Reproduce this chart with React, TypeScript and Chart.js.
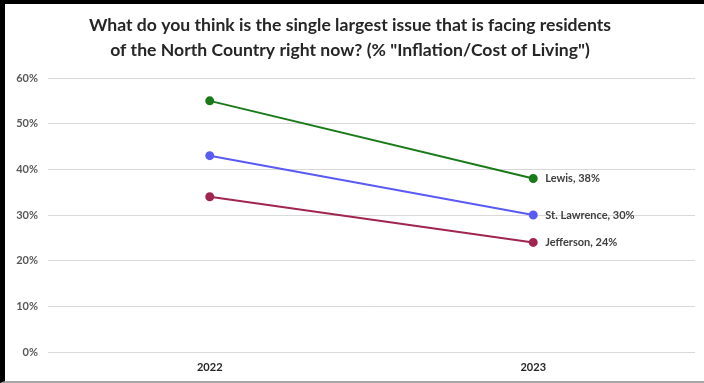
import React, { useEffect, useRef } from "react";
import { Chart, registerables } from "chart.js";

Chart.register(...registerables);

const years = ["2022", "2023"];
const lewis = [55, 38];
const stLawrence = [43, 30];
const jefferson = [34, 24];
const seriesNames = ["Lewis", "St. Lawrence", "Jefferson"];
const titleLines = [
  "What do you think is the single largest issue that is facing residents",
  'of the North Country right now? (% "Inflation/Cost of Living")',
];

const FONT = "Lato, 'Open Sans', sans-serif";

const endLabels = {
  id: "endLabels",
  afterDatasetsDraw(chart: any) {
    const ctx = chart.ctx;
    ctx.save();
    ctx.font = `bold 11px ${FONT}`;
    ctx.fillStyle = "#404040";
    ctx.textBaseline = "middle";
    ctx.textAlign = "left";
    chart.data.datasets.forEach((ds: any, i: number) => {
      const meta = chart.getDatasetMeta(i);
      const last = meta.data[meta.data.length - 1];
      const v = ds.data[ds.data.length - 1];
      ctx.fillText(`${ds.label}, ${v}%`, last.x + 12, last.y);
    });
    ctx.restore();
  },
};

export default function App() {
  const ref = useRef<HTMLCanvasElement>(null);
  useEffect(() => {
    const chart = new Chart(ref.current!, {
      type: "line",
      data: {
        labels: years,
        datasets: [
          { label: seriesNames[0], data: lewis, borderColor: "#1a7a1a", backgroundColor: "#1a7a1a" },
          { label: seriesNames[1], data: stLawrence, borderColor: "#5a5af5", backgroundColor: "#5a5af5" },
          { label: seriesNames[2], data: jefferson, borderColor: "#a0254f", backgroundColor: "#a0254f" },
        ].map((d) => ({ ...d, borderWidth: 2, pointRadius: 3.5, pointHoverRadius: 3.5, tension: 0 })),
      },
      options: {
        animation: false,
        responsive: false,
        maintainAspectRatio: false,
        layout: { padding: { left: 0, right: 9, top: 0, bottom: 0 } },
        plugins: {
          legend: { display: false },
          tooltip: { enabled: false },
          title: {
            display: true,
            text: titleLines,
            color: "#262626",
            font: { family: FONT, size: 17.6, weight: "bold", lineHeight: 1.45 },
            padding: { top: 8.5, bottom: 14.5 },
          },
        },
        scales: {
          x: {
            offset: true,
            grid: { display: false, drawTicks: false },
            border: { display: false },
            ticks: { color: "#262626", font: { family: FONT, size: 11, weight: "bold" }, padding: 9 },
            afterFit: (s: any) => { s.height = 29; },
          },
          y: {
            min: 0,
            max: 60,
            grid: { color: "#d9d9d9", drawTicks: false },
            border: { display: false },
            ticks: {
              stepSize: 10,
              color: "#595959",
              padding: 10,
              font: { family: FONT, size: 11, weight: "bold" },
              callback: (v: any) => `${v}%`,
            },
            afterFit: (s: any) => { s.width = 43; },
          },
        },
      },
      plugins: [endLabels],
    });
    return () => chart.destroy();
  }, []);
  return (
    <div
      style={{
        position: "absolute",
        left: 0,
        top: 0,
        width: 704,
        height: 383,
        boxSizing: "border-box",
        borderTop: "4px solid #000",
        borderLeft: "5px solid #000",
        borderBottom: "2px solid #a6a6a6",
        background: "#fff",
      }}
    >
      <canvas ref={ref} width={699} height={377} style={{ display: "block" }} />
    </div>
  );
}
